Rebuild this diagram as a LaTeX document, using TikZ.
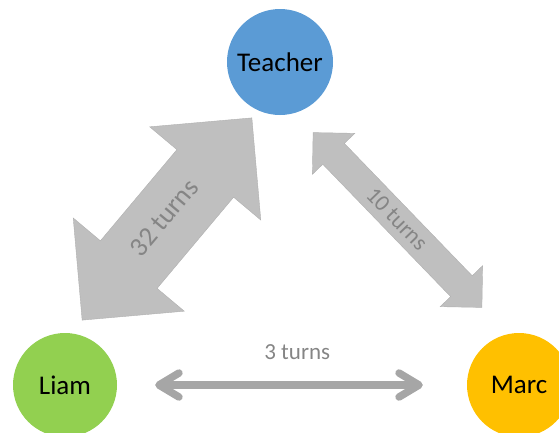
\documentclass[tikz,border=0pt]{standalone}
\usepackage{fontspec}
\setmainfont{Carlito}
\usetikzlibrary{arrows.meta}

\definecolor{teacherblue}{HTML}{5B9BD5}
\definecolor{liamgreen}{HTML}{92D050}
\definecolor{marcgold}{HTML}{FFC000}
\definecolor{arrowgray}{HTML}{BFBFBF}
\definecolor{linegray}{HTML}{A6A6A6}
\definecolor{turnsgray}{HTML}{858585}

\tikzset{
  person/.style={circle, inner sep=0pt, minimum size=104pt, text=black,
    font=\fontsize{27}{32}\selectfont},
  blockarrow/.style={fill=arrowgray, draw=arrowgray!92!black, line width=0.4pt},
  turnslabel/.style={text=turnsgray, inner sep=0pt},
}

\begin{document}
\begin{tikzpicture}[x=1pt, y=-1pt]
\useasboundingbox (0,0) rectangle (559,432);
\clip (0,0) rectangle (559,432);

% the three players
\node[person, fill=teacherblue, minimum size=106pt] (teacher) at (280,62) {Teacher};
\node[person, fill=liamgreen] (liam) at (65,385) {Liam};
\node[person, fill=marcgold] (marc) at (519,385) {Marc};

% Liam <-> Teacher, wide block arrow
\begin{scope}[shift={(167,219)}, rotate=50]
\draw[blockarrow] (132,0) -- (59.5,72.5) -- (59.5,37) -- (-59.5,37) -- (-59.5,72.5)
  -- (-132,0) -- (-59.5,-72.5) -- (-59.5,-37) -- (59.5,-37) -- (59.5,-72.5) -- cycle;
\end{scope}
\node[turnslabel, rotate=50, font=\fontsize{27}{32}\selectfont] (liamteacher) at (164,218) {32 turns};

% Teacher <-> Marc, narrow block arrow
\begin{scope}[shift={(397.5,220)}, rotate=-46]
\draw[blockarrow] (121.5,0) -- (92,29.5) -- (92,15) -- (-92,15) -- (-92,29.5)
  -- (-121.5,0) -- (-92,-29.5) -- (-92,-15) -- (92,-15) -- (92,-29.5) -- cycle;
\end{scope}
\node[turnslabel, rotate=-46, font=\fontsize{23}{28}\selectfont] (teachermarc) at (397,219) {10 turns};

% plain arrow between the two students
\draw[linegray, line width=7.5pt,
  {Straight Barb[length=20pt, width=24pt, round]}-{Straight Barb[length=20pt, width=24pt, round]},
  shorten <=38pt, shorten >=44pt] (liam) -- (marc)
  node[pos=.515, yshift=33pt, text=turnsgray, font=\fontsize{23}{28}\selectfont] {3 turns};

\end{tikzpicture}
\end{document}
